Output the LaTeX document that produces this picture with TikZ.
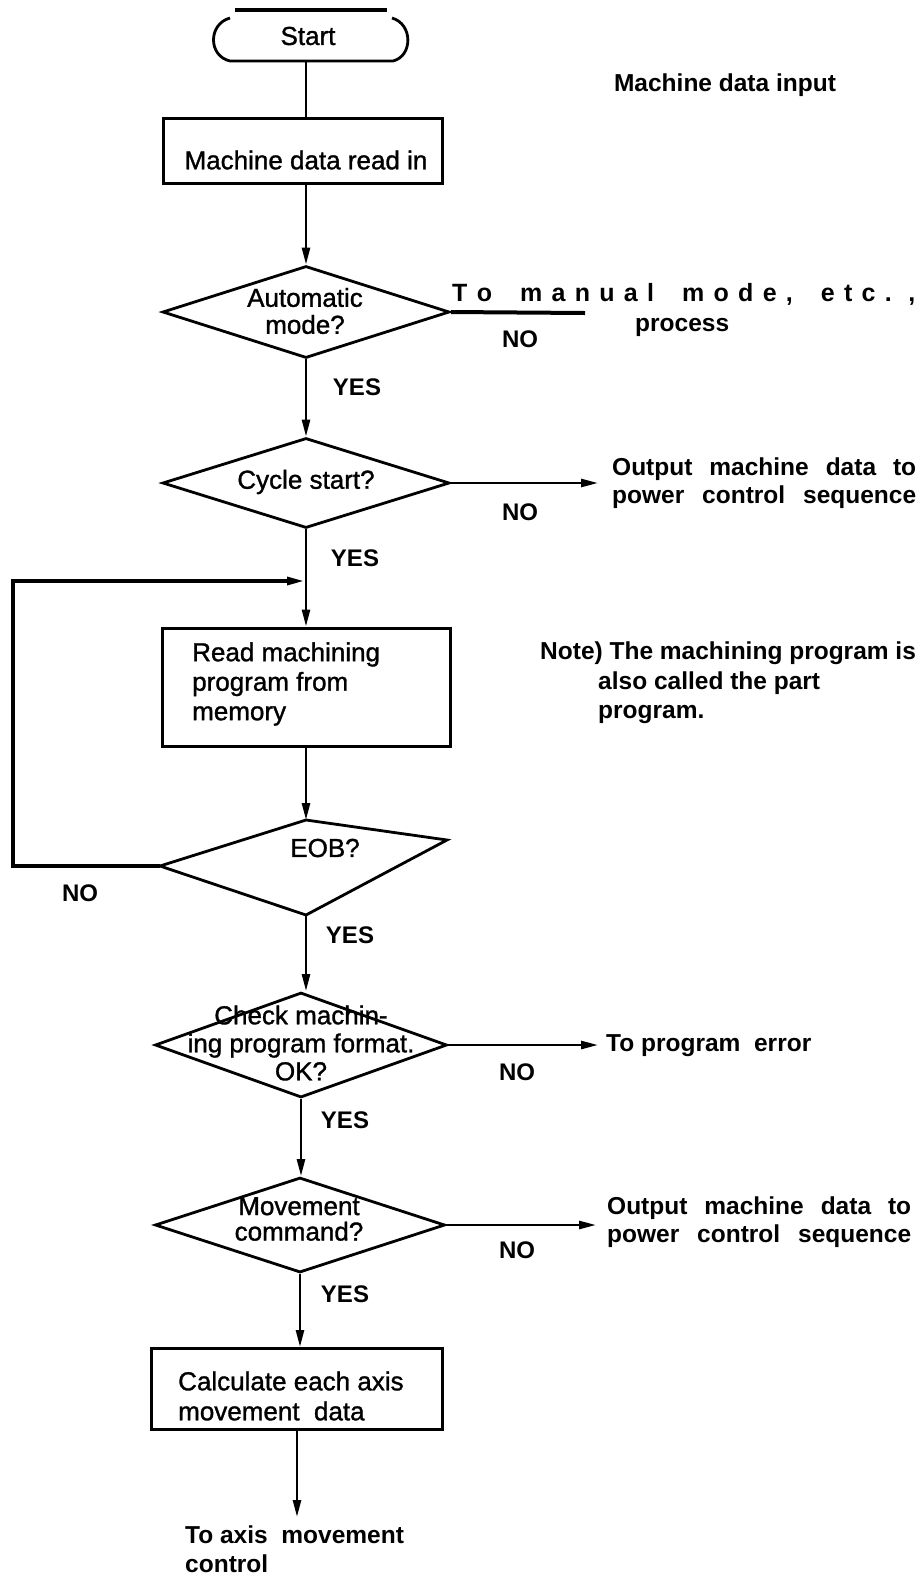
\documentclass[tikz,border=0pt]{standalone}
\usepackage{fontspec}
\setmainfont{Liberation Sans}
\newfontfamily\medfont[FakeBold=1.2]{Liberation Sans}
\usetikzlibrary{shapes.geometric,arrows.meta}
\begin{document}
\begin{tikzpicture}[x=1pt,y=-1pt,
  every node/.style={inner sep=0pt, font=\medfont\fontsize{26}{29.5}\selectfont},
  boxnode/.style={draw, line width=3pt},
  dia/.style={diamond, draw, line width=2.8pt},
  lbl/.style={font=\fontsize{24.5}{28}\selectfont\bfseries},
  yn/.style={font=\fontsize{24}{28}\selectfont\bfseries},
  conn/.style={line width=2.6pt},
  arr/.style={line width=2.6pt, -{Triangle[length=17pt,width=8pt]}},
]
\useasboundingbox (0,0) rectangle (923,1575);
% Start terminal
\node (start) at (308,36) {Start};
\coordinate (startb) at (306,61);
\draw[line width=2.8pt] (230,18) .. controls (208,24) and (208,56) .. (230,61) -- (393,61) .. controls (413,56) and (413,24) .. (392,18);
\draw[line width=3.5pt] (235,10) -- (387,10);
% Machine data read in
\node[boxnode, minimum width=279pt, minimum height=65pt] (box1) at (303,151) {};
\node (box1t) at (306,160) {Machine data read in};
\draw[conn] (startb) -- (startb |- box1.north);
\node[lbl] (mdi) at (725,85) {Machine data input};
% Decision 1
\node[dia, minimum width=287pt, minimum height=92pt] (d1) at (306,312) {};
\node[align=center, font=\medfont\fontsize{26}{27}\selectfont] (d1t) at (305,311) {Automatic\\mode?};
\draw[arr] (box1.south -| d1.north) -- (d1.north);
\coordinate (manend) at (585,313);
\draw[line width=4pt] (d1.east) -- (manend);
\node[anchor=west, font=\fontsize{25}{28}\selectfont\bfseries] (manual) at (452,294) {\makebox[463pt][s]{T o\ \ \ m a n u a l\ \ \ m o d e ,\ \ \ e t c . ,}};
\node[lbl, anchor=west] (proc) at (635,327) {process};
\node[yn] (no1) at (520,339) {NO};
\node[yn] (yes1) at (357,387) {YES};
% Decision 2
\node[dia, minimum width=287pt, minimum height=90pt] (d2) at (306,483) {};
\node (d2t) at (306,482) {Cycle start?};
\draw[arr] (d1.south) -- (d2.north);
\coordinate (out1) at (598,483);
\draw[arr] (d2.east) -- (out1);
\node[lbl, anchor=west, align=left] (outA) at (612,483) {\makebox[304pt][s]{Output machine data to}\\\makebox[304pt][s]{power control sequence}};
\node[yn] (no2) at (520,512) {NO};
\node[yn] (yes2) at (355,558) {YES};
% Read machining program
\node[boxnode, minimum width=288pt, minimum height=118pt] (box2) at (306,687) {};
\node[anchor=west, align=left] (box2t) at (192,684) {Read machining\\program from\\memory};
\draw[arr] (d2.south) -- (box2.north);
\coordinate (loopin) at (304,581);
\node[lbl, anchor=west, align=left, font=\fontsize{24.5}{29.5}\selectfont\bfseries] (note) at (540,683) {Note) The machining program is\\\hspace*{58pt}also called the part\\\hspace*{58pt}program.};
% Decision 3 EOB
\coordinate (d3n) at (306,820);
\coordinate (d3e) at (447,840);
\coordinate (d3s) at (306,915);
\coordinate (d3w) at (160,866);
\draw[line width=2.8pt, line join=miter] (d3n) -- (d3e) -- (d3s) -- (d3w) -- cycle;
\node (d3t) at (325,848) {EOB?};
\draw[arr] (box2.south) -- (d3n);
\draw[line width=3.2pt, -{Triangle[length=17pt,width=8pt]}] (d3w) -- (13,866) -- (13,581) -- (loopin);
\node[yn] (no3) at (80,893) {NO};
\node[yn] (yes3) at (350,935) {YES};
% Decision 4
\node[dia, minimum width=292pt, minimum height=105pt] (d4) at (301,1045) {};
\node[align=center, font=\medfont\fontsize{26}{28}\selectfont] (d4t) at (301,1043) {Check machin-\\ing program format.\\OK?};
\draw[arr] (d3s) -- (d3s |- d4.north);
\coordinate (err) at (598,1045);
\draw[arr] (d4.east) -- (err);
\node[lbl, anchor=west] (errt) at (606,1046) {To program\ \ error};
\node[yn] (no4) at (517,1072) {NO};
\node[yn] (yes4) at (345,1120) {YES};
% Decision 5
\node[dia, minimum width=290pt, minimum height=95pt] (d5) at (300,1225) {};
\node[align=center, font=\medfont\fontsize{26}{25.5}\selectfont] (d5t) at (299,1219) {Movement\\command?};
\draw[arr] (d4.south) -- (d4.south |- d5.north);
\coordinate (out2) at (596,1225);
\draw[arr] (d5.east) -- (out2);
\node[lbl, anchor=west, align=left] (outB) at (607,1222) {\makebox[304pt][s]{Output machine data to}\\\makebox[304pt][s]{power control sequence}};
\node[yn] (no5) at (517,1250) {NO};
\node[yn] (yes5) at (345,1294) {YES};
% Calculate box
\node[boxnode, minimum width=291pt, minimum height=81pt] (box3) at (297,1389) {};
\node[anchor=west, align=left, font=\medfont\fontsize{26}{30}\selectfont] (box3t) at (178,1396) {Calculate each axis\\movement\ \ data};
\draw[arr] (d5.south) -- (d5.south |- box3.north);
\coordinate (axend) at (297,1517);
\draw[arr] (box3.south) -- (axend);
\node[lbl, anchor=west, align=left, font=\fontsize{24.5}{29}\selectfont\bfseries] (axt) at (185,1549) {To axis\ \ movement\\control};
\end{tikzpicture}
\end{document}
